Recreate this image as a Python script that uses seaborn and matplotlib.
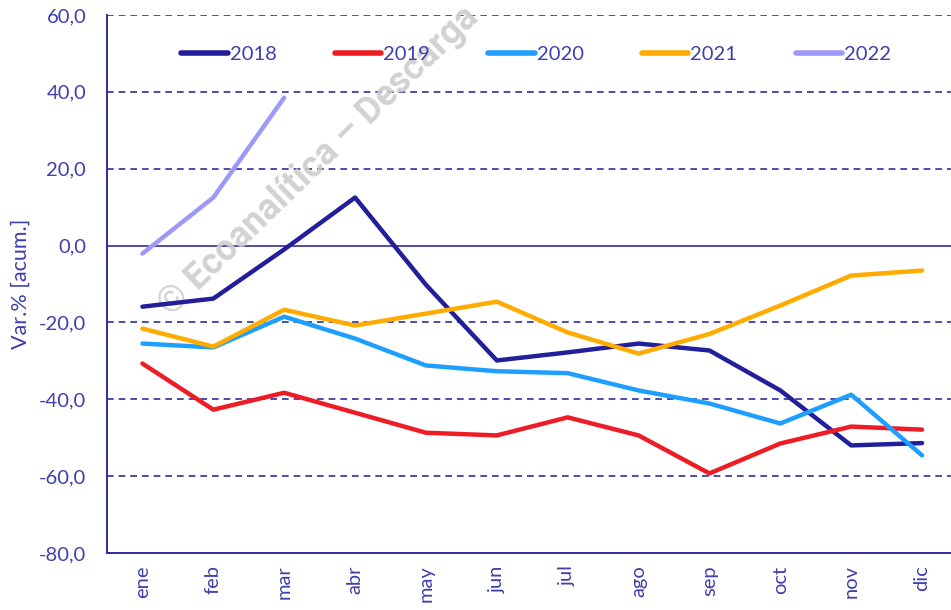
import numpy as np
import pandas as pd
import matplotlib
matplotlib.use("Agg")
import matplotlib.pyplot as plt
import seaborn as sns

months = ["ene", "feb", "mar", "abr", "may", "jun", "jul", "ago", "sep", "oct", "nov", "dic"]
y2018 = [-15.9, -13.8, -1.0, 12.5, -10.2, -29.9, -27.8, -25.5, -27.3, -37.7, -52.0, -51.4]
y2019 = [-30.7, -42.7, -38.3, -43.5, -48.7, -49.4, -44.7, -49.4, -59.3, -51.5, -47.1, -47.9]
y2020 = [-25.5, -26.5, -18.5, -24.2, -31.2, -32.7, -33.2, -37.7, -41.1, -46.3, -38.8, -54.6]
y2021 = [-21.6, -26.3, -16.7, -20.8, -17.7, -14.6, -22.6, -28.1, -23.0, -15.6, -7.8, -6.5]
y2022 = [-2.1, 12.5, 38.5]
series_names = ["2018", "2019", "2020", "2021", "2022"]
colors = ["#231F9B", "#EE1C25", "#1E9FFF", "#FFAB00", "#9D9AF7"]
yticks = [-80, -60, -40, -20, 0, 20, 40, 60]
ytick_labels = ["-80,0", "-60,0", "-40,0", "-20,0", "0,0", "20,0", "40,0", "60,0"]

rows = []
for name, vals in zip(series_names, [y2018, y2019, y2020, y2021, y2022]):
    for i, v in enumerate(vals):
        rows.append({"pos": i, "mes": months[i], "valor": v, "serie": name})
df = pd.DataFrame(rows)

sns.set_theme(style="white")
plt.rcParams["font.family"] = ["Lato", "DejaVu Sans"]
txt = "#3F3FAE"
axis_c = "#2E2EA0"

fig = plt.figure(figsize=(9.51, 6.10), dpi=100)
ax = fig.add_axes([107 / 951, 1 - 553 / 610, 850.5 / 951, 538 / 610])

for y in [-60, -40, -20, 20, 40, 60]:
    ax.axhline(y, color=axis_c, lw=1.2, ls=(0, (4, 3)), zorder=1)
ax.axhline(0, color=axis_c, lw=1.2, zorder=1)

sns.lineplot(data=df, x="pos", y="valor", hue="serie", palette=dict(zip(series_names, colors)),
             hue_order=series_names, lw=3.2, ax=ax, sort=False, zorder=3,
             solid_capstyle="round", solid_joinstyle="round")

ax.set_xlim(-0.5, 11.5)
ax.set_ylim(-80, 60)
ax.set_xticks(range(len(months)))
ax.set_xticklabels(months, rotation=90, fontsize=14.5, color=txt)
ax.set_yticks(yticks)
ax.set_yticklabels(ytick_labels, fontsize=14.5, color=txt)
ax.tick_params(axis="y", length=0, pad=15)
ax.tick_params(axis="x", length=0, pad=9)
ax.set_xlabel("")
ax.set_ylabel("Var.% [acum.]", fontsize=15.5, color=txt, labelpad=6)
for s in ["top", "right"]:
    ax.spines[s].set_visible(False)
for s in ["left", "bottom"]:
    ax.spines[s].set_color(axis_c)
    ax.spines[s].set_linewidth(1.4)

leg = ax.legend(loc="upper left", bbox_to_anchor=(0.066, 0.977), ncol=5, frameon=False,
                fontsize=14.5, handlelength=2.3, handletextpad=0.1, columnspacing=2.9,
                labelcolor=txt)
for h in leg.get_lines():
    h.set_linewidth(4)

ax.text(0.160, 0.47, "© Ecoanalítica – Descarga", rotation=44, fontsize=26,
        fontweight="bold", color="#CDCDCD", alpha=0.9, ha="left", va="bottom",
        family=["Roboto", "DejaVu Sans"], zorder=2, transform=fig.transFigure,
        clip_on=False)

fig.savefig("out.png", dpi=100)
